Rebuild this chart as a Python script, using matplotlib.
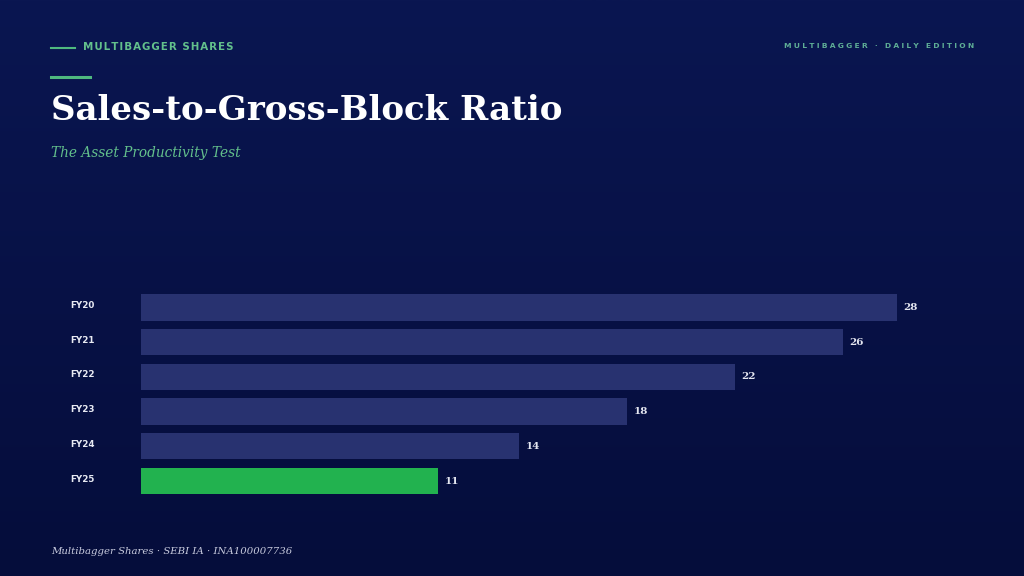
import numpy as np
import matplotlib
matplotlib.use("Agg")
import matplotlib.pyplot as plt
from matplotlib.colors import LinearSegmentedColormap
from matplotlib.transforms import ScaledTranslation

# ---- data ----
categories = ["FY20", "FY21", "FY22", "FY23", "FY24", "FY25"]
values = [28, 26, 22, 18, 14, 11]
highlight = "FY25"

title = "Sales-to-Gross-Block Ratio"
subtitle = "The Asset Productivity Test"
brand = "MULTIBAGGER SHARES"
edition = "MULTIBAGGER · DAILY EDITION"
footer = "Multibagger Shares · SEBI IA · INA100007736"

# ---- style ----
W, H = 1024, 576
BAR = "#283270"
GREEN = "#22b24f"
ACCENT = "#4fb97f"
TEXT_GREEN = "#63c08c"
FOOT = "#c9ccdf"

fig = plt.figure(figsize=(W / 100, H / 100), dpi=100)

# background gradient
bg = fig.add_axes([0, 0, 1, 1], zorder=-10)
grad = np.linspace(0, 1, 256).reshape(-1, 1)
cmap = LinearSegmentedColormap.from_list("bg", ["#0a1651", "#050d3b"])
bg.imshow(grad, aspect="auto", cmap=cmap, extent=[0, 1, 0, 1], origin="upper")
bg.set_axis_off()


def fx(px):
    return px / W


def fy(py):
    return 1 - py / H


def spaced(s, sep="\u200a"):
    return sep.join(s)


# header lines
fig.add_artist(plt.Line2D([fx(51), fx(75)], [fy(47.5), fy(47.5)], color=ACCENT, lw=1.5))
fig.add_artist(plt.Line2D([fx(51), fx(90)], [fy(76.5), fy(76.5)], color=ACCENT, lw=2.2))

fig.text(fx(83), fy(47), spaced(brand, "\u200a"), color=TEXT_GREEN, fontsize=7.4,
         fontweight="bold", family="DejaVu Sans", va="center", ha="left")
fig.text(fx(974), fy(46), spaced(edition, "\u2009\u200a"), color="#5fae96", fontsize=5.4,
         fontweight="bold", family="DejaVu Sans", va="center", ha="right")

fig.text(fx(51), fy(111), title, color="white", fontsize=24.5, fontweight="bold",
         family="DejaVu Serif", va="center", ha="left")
fig.text(fx(51), fy(153), subtitle, color=TEXT_GREEN, fontsize=9.8, style="italic",
         family="DejaVu Serif", va="center", ha="left")
fig.text(fx(51), fy(551), footer, color=FOOT, fontsize=7.3, style="italic",
         family="DejaVu Serif", va="center", ha="left")

# ---- bars ----
spacing = 34.7
top_c, n = 307.5, len(categories)
ax_top = top_c - spacing / 2
ax_bot = top_c + (n - 1) * spacing + spacing / 2
ax_left, ax_right = 141, 980
ax = fig.add_axes([fx(ax_left), fy(ax_bot), fx(ax_right - ax_left), (ax_bot - ax_top) / H])
ax.set_facecolor("none")

y = np.arange(n)
colors = [GREEN if c == highlight else BAR for c in categories]
ax.barh(y, values, height=26.3 / spacing, color=colors, align="center")
ax.set_ylim(n - 0.5, -0.5)
scale = (896.5 - 141) / max(values)  # px per unit
ax.set_xlim(0, (ax_right - ax_left) / scale)

for sp in ax.spines.values():
    sp.set_visible(False)
ax.set_xticks([])
ax.set_yticks(y)
ax.set_yticklabels(categories, fontsize=6.3, fontweight="bold", color="#e8eaf3",
                   family="DejaVu Sans", ha="left")
ax.tick_params(axis="y", length=0, pad=(141 - 70) * 0.72)
shift = ScaledTranslation(0, 3 / 100, fig.dpi_scale_trans)
for lbl in ax.get_yticklabels():
    lbl.set_transform(lbl.get_transform() + shift)

for yi, v in zip(y, values):
    ax.annotate(str(v), xy=(v, yi), xytext=(5, 0), textcoords="offset points",
                va="center", ha="left", fontsize=7.5, fontweight="bold",
                color="#e4e6f0", family="DejaVu Serif")

fig.savefig("out.png", dpi=100)
